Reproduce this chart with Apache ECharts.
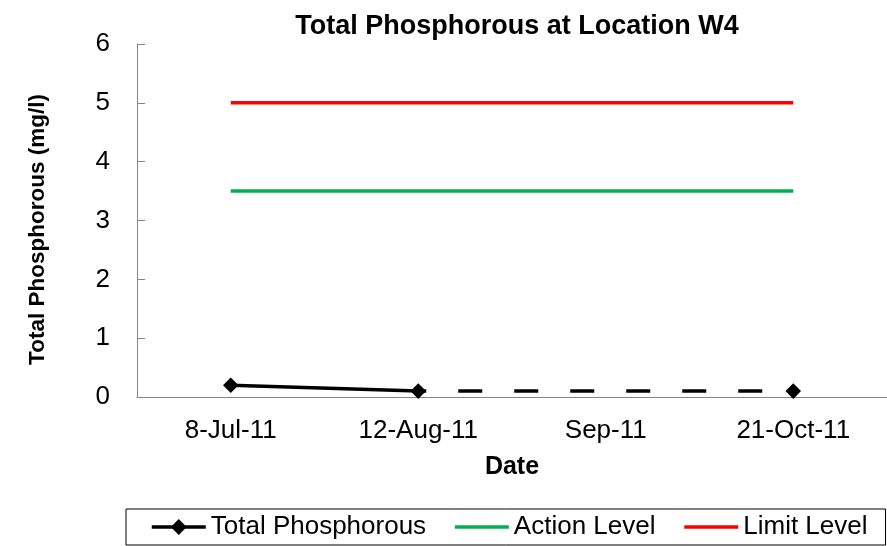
<!DOCTYPE html>
<html><head><meta charset="utf-8">
<script src="https://cdn.jsdelivr.net/npm/echarts@6/dist/echarts.min.js"></script>
<style>html,body{margin:0;padding:0;background:#fff}#c{width:887px;height:546px}</style>
</head><body><div id="c"></div>
<script>
const categories = ['8-Jul-11', '12-Aug-11', 'Sep-11', '21-Oct-11'];
const totalPhosphorous = [0.2, 0.1, null, 0.1];
const gapConnector = [null, 0.1, null, 0.1];
const actionLevel = [3.5, 3.5, 3.5, 3.5];
const limitLevel = [5, 5, 5, 5];
const yTicks = [0, 6, 1];

const font = 'Liberation Sans, Arial, sans-serif';
const chart = echarts.init(document.getElementById('c'));
chart.setOption({
  animation: false,
  title: {
    text: 'Total Phosphorous at Location W4',
    left: 512, top: 8, textAlign: 'center',
    textStyle: {fontFamily: font, fontSize: 27, fontWeight: 'bold', color: '#000'}
  },
  grid: {left: 137, top: 44, width: 754, height: 353},
  legend: {
    bottom: 1, left: 126,
    padding: [5, 18, 5, 24],
    borderColor: '#000', borderWidth: 1,
    itemWidth: 54, itemHeight: 14, itemGap: 27,
    lineStyle: {width: 3.5},
    data: [
      {name: 'Total Phosphorous'},
      {name: 'Action Level', itemStyle: {opacity: 0}},
      {name: 'Limit Level', itemStyle: {opacity: 0}}
    ],
    textStyle: {fontFamily: font, fontSize: 26, color: '#000'}
  },
  xAxis: {
    type: 'category', data: categories, boundaryGap: true,
    name: 'Date', nameLocation: 'middle', nameGap: 58,
    nameTextStyle: {fontFamily: font, fontSize: 25, fontWeight: 'bold', color: '#000'},
    axisLine: {lineStyle: {color: '#868686', width: 1}},
    axisTick: {inside: true, length: 7, lineStyle: {color: '#868686'}},
    axisLabel: {fontFamily: font, fontSize: 26, color: '#000', margin: 21}
  },
  yAxis: {
    type: 'value', min: yTicks[0], max: yTicks[1], interval: yTicks[2],
    name: 'Total Phosphorous (mg/l)', nameLocation: 'middle', nameGap: 88,
    nameTextStyle: {fontFamily: font, fontSize: 22.5, fontWeight: 'bold', color: '#000', padding: [0, 18, 0, 0]},
    axisLine: {show: true, lineStyle: {color: '#868686', width: 1}},
    axisTick: {show: true, inside: true, length: 8, lineStyle: {color: '#868686'}},
    axisLabel: {fontFamily: font, fontSize: 26, color: '#000', margin: 27},
    splitLine: {show: false}
  },
  series: [
    {
      name: 'gap', type: 'line', data: gapConnector, connectNulls: true,
      symbol: 'none', silent: true, z: 1,
      lineStyle: {color: '#000', width: 3.5, type: [24, 32], dashOffset: 16}
    },
    {
      name: 'Total Phosphorous', type: 'line', data: totalPhosphorous, connectNulls: false,
      symbol: 'rect', symbolSize: 11, symbolRotate: 45, z: 3,
      itemStyle: {color: '#000'},
      lineStyle: {color: '#000', width: 3.5}
    },
    {
      name: 'Action Level', type: 'line', data: actionLevel, symbol: 'none',
      itemStyle: {color: '#00B050'}, lineStyle: {color: '#00B050', width: 3.5}
    },
    {
      name: 'Limit Level', type: 'line', data: limitLevel, symbol: 'none',
      itemStyle: {color: '#FF0000'}, lineStyle: {color: '#FF0000', width: 3.5}
    }
  ]
});
</script></body></html>
